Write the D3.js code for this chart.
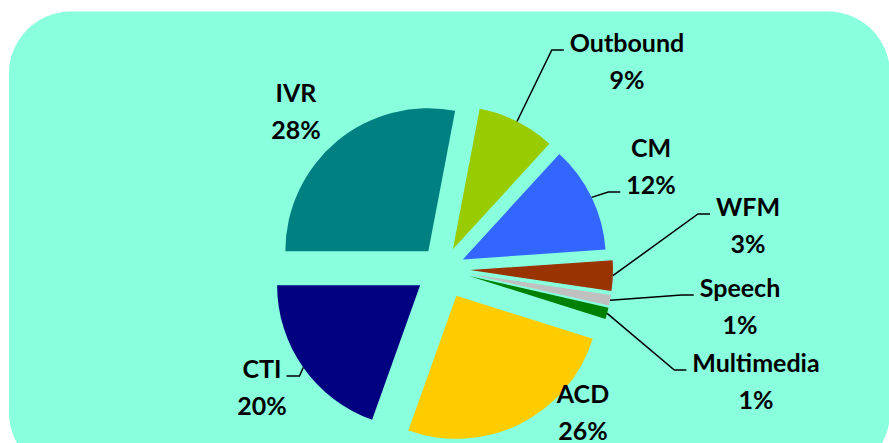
<!DOCTYPE html>
<html>
<head>
<meta charset="utf-8">
<script src="https://d3js.org/d3.v7.min.js"></script>
<style>
  body { margin: 0; background: #fff; }
  svg { display: block; }
  .lbl { font-family: Lato, sans-serif; font-weight: bold; font-size: 25px; fill: #000; }
  .leader { fill: none; stroke: #000; stroke-width: 1.5px; }
</style>
</head>
<body>
<svg id="chart"></svg>
<script>
var width = 889, height = 443;

// slices clockwise, starting at 9 o'clock
var categories = ["IVR", "Outbound", "CM", "WFM", "Speech", "Multimedia", "ACD", "CTI"];
var shares = [28.0, 8.8, 12.1, 3.45, 1.2, 1.3, 25.6, 19.55];
var colors = ["#008080", "#99cc00", "#3366ff", "#993300", "#c0c0c0", "#008000", "#ffcc00", "#000080"];

// how far each slice is pulled out (px)
var explode = {IVR: 23, Outbound: 22, CM: 22, WFM: 27, Speech: 27, Multimedia: 27, ACD: 30, CTI: 28};

// label placement: centre x, first baseline y; leader attaches to line `line` on side `side`
var labelPos = {
  IVR:        {x: 296, y: 102},
  Outbound:   {x: 627, y: 52,  side: "left",  line: 0},
  CM:         {x: 651, y: 157, side: "left",  line: 1},
  WFM:        {x: 748, y: 216, side: "left",  line: 0},
  Speech:     {x: 740, y: 297, side: "left",  line: 0},
  Multimedia: {x: 756, y: 372, side: "left",  line: 0},
  ACD:        {x: 583, y: 403},
  CTI:        {x: 262, y: 378, side: "right", line: 0}
};
var lineGap = 37;

var cx = 443, cy = 269, radius = 143;

var svg = d3.select("#chart")
  .attr("width", width)
  .attr("height", height);

svg.append("rect")
  .attr("x", 9)
  .attr("y", 11.5)
  .attr("width", 881)
  .attr("height", 463)
  .attr("rx", 62)
  .attr("fill", "#89ffde");

var data = categories.map(function(c, i) {
  return {name: c, value: shares[i], color: colors[i]};
});

var pie = d3.pie()
  .sort(null)
  .value(function(d) { return d.value; })
  .startAngle(-Math.PI / 2)
  .endAngle(3 * Math.PI / 2);

var arc = d3.arc().innerRadius(0).outerRadius(radius);

var arcs = pie(data);

function offset(d) {
  var a = (d.startAngle + d.endAngle) / 2;
  var e = explode[d.data.name];
  return [cx + e * Math.sin(a), cy - e * Math.cos(a)];
}

var g = svg.append("g");

g.selectAll("path.slice")
  .data(arcs)
  .enter().append("path")
  .attr("class", "slice")
  .attr("transform", function(d) { return "translate(" + offset(d) + ")"; })
  .attr("d", arc)
  .attr("fill", function(d) { return d.data.color; });

// labels
var labels = svg.selectAll("text.lbl")
  .data(arcs)
  .enter().append("text")
  .attr("class", "lbl")
  .attr("text-anchor", "middle");

labels.append("tspan")
  .attr("x", function(d) { return labelPos[d.data.name].x; })
  .attr("y", function(d) { return labelPos[d.data.name].y; })
  .text(function(d) { return d.data.name; });

labels.append("tspan")
  .attr("x", function(d) { return labelPos[d.data.name].x; })
  .attr("y", function(d) { return labelPos[d.data.name].y + lineGap; })
  .text(function(d) { return Math.round(d.data.value) + "%"; });

// leader lines
labels.each(function(d) {
  var p = labelPos[d.data.name];
  if (!p.side) return;
  var span = d3.select(this).selectAll("tspan").nodes()[p.line];
  var w = span.getComputedTextLength();
  var ly = p.y + p.line * lineGap - 2;
  var a = (d.startAngle + d.endAngle) / 2;
  var o = offset(d);
  var start = [o[0] + radius * Math.sin(a), o[1] - radius * Math.cos(a)];
  var end, elbow;
  if (p.side === "left") {
    end = [p.x - w / 2 - 6, ly];
    elbow = [end[0] - 12, ly];
  } else {
    end = [p.x + w / 2 + 5, ly];
    elbow = [end[0] + 13, ly];
  }
  svg.append("path")
    .attr("class", "leader")
    .attr("d", d3.line()([start, elbow, end]));
});
</script>
</body>
</html>
